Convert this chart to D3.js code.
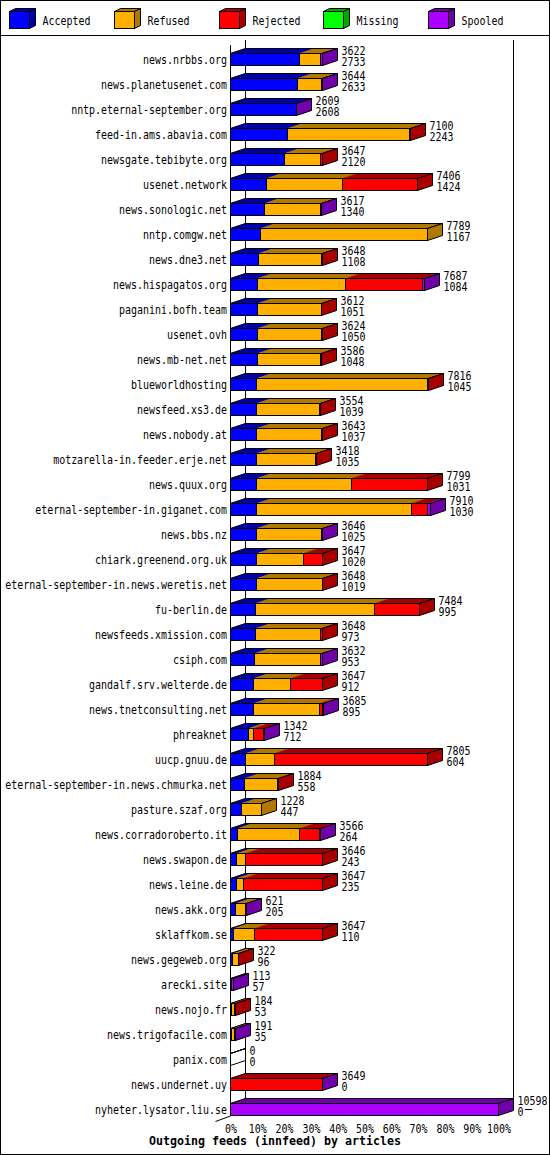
<!DOCTYPE html>
<html><head><meta charset="utf-8">
<script src="https://cdn.jsdelivr.net/npm/d3@7"></script>
<style>
body{margin:0;background:#fff}
svg{display:block}
text{font-family:"DejaVu Sans Mono",monospace;fill:#000}
</style>
</head><body>
<svg id="c" width="550" height="1155"></svg>
<script>
const hosts = ["news.nrbbs.org","news.planetusenet.com","nntp.eternal-september.org","feed-in.ams.abavia.com","newsgate.tebibyte.org","usenet.network","news.sonologic.net","nntp.comgw.net","news.dne3.net","news.hispagatos.org","paganini.bofh.team","usenet.ovh","news.mb-net.net","blueworldhosting","newsfeed.xs3.de","news.nobody.at","motzarella-in.feeder.erje.net","news.quux.org","eternal-september-in.giganet.com","news.bbs.nz","chiark.greenend.org.uk","eternal-september-in.news.weretis.net","fu-berlin.de","newsfeeds.xmission.com","csiph.com","gandalf.srv.welterde.de","news.tnetconsulting.net","phreaknet","uucp.gnuu.de","eternal-september-in.news.chmurka.net","pasture.szaf.org","news.corradoroberto.it","news.swapon.de","news.leine.de","news.akk.org","sklaffkom.se","news.gegeweb.org","arecki.site","news.nojo.fr","news.trigofacile.com","panix.com","news.undernet.uy","nyheter.lysator.liu.se"];
const offered  = [3622,3644,2609,7100,3647,7406,3617,7789,3648,7687,3612,3624,3586,7816,3554,3643,3418,7799,7910,3646,3647,3648,7484,3648,3632,3647,3685,1342,7805,1884,1228,3566,3646,3647,621,3647,322,113,184,191,0,3649,10598];
const accepted = [2733,2633,2608,2243,2120,1424,1340,1167,1108,1084,1051,1050,1048,1045,1039,1037,1035,1031,1030,1025,1020,1019,995,973,953,912,895,712,604,558,447,264,243,235,205,110,96,57,53,35,0,0,0];
const refused  = [830,980,0,4830,1448,3005,2201,6622,2491,3466,2540,2550,2510,6740,2485,2575,2340,3756,6129,2590,1858,2600,4692,2580,2623,1450,2610,185,1147,1290,781,2460,356,270,395,850,224,0,92,120,0,0,0];
const rejected = [0,0,0,27,79,2977,50,0,49,3045,21,24,28,31,30,31,43,3012,633,0,769,29,1797,95,0,1285,132,395,6054,36,0,800,3047,3142,0,2687,2,0,39,0,0,3620,0];
const missing  = [0,0,0,0,0,0,0,0,0,0,0,0,0,0,0,0,0,0,0,0,0,0,0,0,0,0,0,0,0,0,0,0,0,0,0,0,0,0,0,0,0,0,0];
const spooled  = [59,31,1,0,0,0,26,0,0,92,0,0,0,0,0,0,0,0,118,31,0,0,0,0,56,0,48,50,0,0,0,42,0,0,21,0,0,56,0,36,0,29,10598];
const seriesNames = ["Accepted","Refused","Rejected","Missing","Spooled"];
const frontColors = ["#0000ff","#ffaf00","#ff0000","#00ff00","#aa00ff"];
const darkColors  = ["#0000a8","#b07800","#a80000","#00a800","#7000a8"];
const tickLabels = ["0%","10%","20%","30%","40%","50%","60%","70%","80%","90%","100%"];
const title = "Outgoing feeds (innfeed) by articles";

const keys = ["accepted","refused","rejected","missing","spooled"];
const rows = hosts.map((h,i)=>({host:h, offered:offered[i], accepted:accepted[i], refused:refused[i], rejected:rejected[i], missing:missing[i], spooled:spooled[i]}));
const stacked = d3.stack().keys(keys)(rows);

const svg = d3.select("#c");
const FS = 11.5;
const SX = 6 / (FS * 0.602);   // squeeze to a 6px-wide bitmap-like font
const DX = 15, DY = 5, FH = 12;

const totals = rows.map(r=>keys.reduce((s,k)=>s+r[k],0));
const x = d3.scaleLinear().domain([0, d3.max(totals)]).range([230.5, 498.5]);
const xp = d3.scaleLinear().domain([0,100]).range([230.5, 498.5]);
const y = d3.scalePoint().domain(hosts).range([53, 53 + 25*(hosts.length-1)]);
const px = v => Math.round(x(v) - 0.5) + 0.5;

function stxt(g, tx, ty, s, anchor, size, sx, weight){
  return g.append("text")
    .attr("transform", `translate(${tx},${ty}) scale(${sx||SX},1)`)
    .attr("text-anchor", anchor||"start")
    .style("font-size", (size||FS)+"px")
    .style("font-weight", weight||"normal")
    .text(s);
}

// frame
svg.append("rect").attr("x",0.5).attr("y",0.5).attr("width",549).attr("height",1154)
  .attr("fill","#fff").attr("stroke","#000");
svg.append("line").attr("x1",0).attr("x2",550).attr("y1",35.5).attr("y2",35.5).attr("stroke","#000");

// legend
const lg = svg.append("g");
seriesNames.forEach((n,i)=>{
  const lx = Math.round(9 + 104.75*i) + 0.5, ly = 11.5;
  lg.append("polygon").attr("points",`${lx},${ly} ${lx+20},${ly} ${lx+26},${ly-3} ${lx+6},${ly-3}`)
    .attr("fill",darkColors[i]).attr("stroke","#000");
  lg.append("polygon").attr("points",`${lx+20},${ly} ${lx+26},${ly-3} ${lx+26},${ly+14} ${lx+20},${ly+17}`)
    .attr("fill",darkColors[i]).attr("stroke","#000");
  lg.append("rect").attr("x",lx).attr("y",ly).attr("width",20).attr("height",17)
    .attr("fill",frontColors[i]).attr("stroke","#000");
  stxt(lg, lx+33, 24.5, n, "start");
});

// walls / axes
const ax = svg.append("g").attr("stroke","#000").attr("fill","none");
ax.append("line").attr("x1",245.5).attr("x2",245.5).attr("y1",40).attr("y2",1110);
ax.append("line").attr("x1",513.5).attr("x2",513.5).attr("y1",40).attr("y2",1110);
ax.append("line").attr("x1",230.5).attr("x2",230.5).attr("y1",45).attr("y2",1116);
ax.append("line").attr("x1",230.5).attr("x2",215.5).attr("y1",1116).attr("y2",1121.5);
ax.append("line").attr("x1",525).attr("x2",532).attr("y1",1109.5).attr("y2",1109.5);

// bars
const bars = svg.append("g");
rows.forEach((r,i)=>{
  const t = y(r.host) + 0.5;
  const g = bars.append("g");
  const segs = keys.map((k,j)=>({j, v:r[k], x0:px(stacked[j][i][0]), x1:px(stacked[j][i][1])})).filter(s=>s.v>0);
  const X0 = px(0);
  const X1 = segs.length ? segs[segs.length-1].x1 : X0;
  segs.forEach(s=>{
    g.append("polygon").attr("points",`${s.x0},${t} ${s.x1},${t} ${s.x1+DX},${t-DY} ${s.x0+DX},${t-DY}`)
      .attr("fill",darkColors[s.j]).attr("stroke",darkColors[s.j]).attr("stroke-width",0.5);
  });
  g.append("polygon").attr("points",`${X0},${t} ${X1},${t} ${X1+DX},${t-DY} ${X0+DX},${t-DY}`)
    .attr("fill","none").attr("stroke","#000");
  const last = segs.length ? segs[segs.length-1].j : -1;
  g.append("polygon").attr("points",`${X1},${t} ${X1+DX},${t-DY} ${X1+DX},${t+FH-DY} ${X1},${t+FH}`)
    .attr("fill", last>=0 ? darkColors[last] : "none").attr("stroke","#000");
  segs.forEach(s=>{
    g.append("rect").attr("x",s.x0).attr("y",t).attr("width",Math.max(0,s.x1-s.x0)).attr("height",FH)
      .attr("fill",frontColors[s.j]).attr("stroke","#000");
  });
  stxt(g, 227, t+10, r.host, "end");
  stxt(g, X1+DX+4, t+1.5, String(r.offered), "start");
  stxt(g, X1+DX+4, t+12, String(r.accepted), "start");
});

// x axis (percent)
const xa = svg.append("g").attr("transform","translate(0,1124)")
  .call(d3.axisBottom(xp).tickValues(d3.range(0,101,10)).tickFormat((d,i)=>tickLabels[i]).tickSize(0));
xa.select(".domain").remove();
xa.selectAll("text").attr("y",9).attr("dy",null)
  .attr("transform",`scale(${SX},1)`)
  .style("font-size",FS+"px").style("font-family","'DejaVu Sans Mono',monospace").attr("fill","#000");

// title
stxt(svg, 275, 1144.5, title, "middle", 12, 0.97, "bold");
</script>
</body></html>
